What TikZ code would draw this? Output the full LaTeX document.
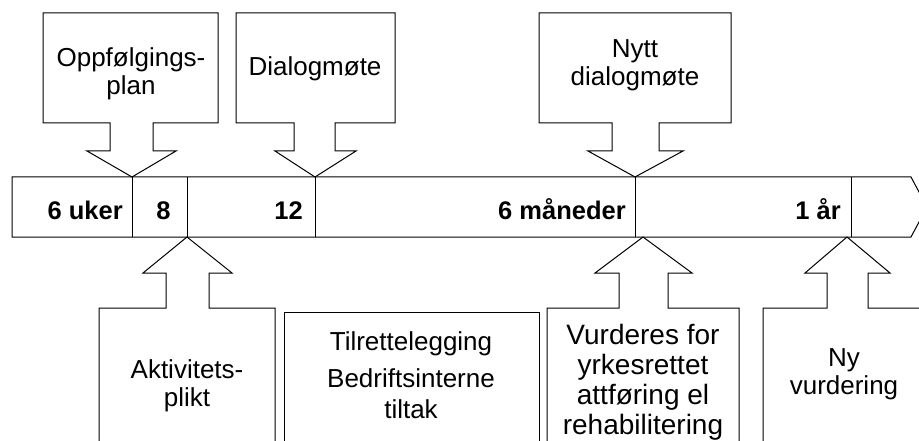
\documentclass[tikz,border=0pt]{standalone}
\usepackage{fontspec}
\setmainfont{Liberation Sans}
\begin{document}
\begin{tikzpicture}[x=1pt,y=-1pt,
  outline/.style={draw=black,line width=1pt,line join=miter},
  lbl/.style={inner sep=0pt,align=center,anchor=north,font=\fontsize{26}{28}\selectfont},
  lblwide/.style={lbl,font=\fontsize{26}{31}\selectfont},
  lblbig/.style={lbl,font=\fontsize{28}{30}\selectfont},
  barlbl/.style={inner sep=0pt,font=\fontsize{25.5}{28}\selectfont\bfseries}]
\useasboundingbox (0,0) rectangle (919,441);
\fill[white] (0,0) rectangle (919,441);
\clip (0,0) rectangle (919,441);
% timeline bar
\draw[outline] (12,177) -- (911,177) -- (927,207) -- (911,237) -- (12,237) -- cycle;
\coordinate (d1t) at (132,177); \coordinate (d1b) at (132,237);
\coordinate (d2t) at (187,177); \coordinate (d2b) at (187,237);
\coordinate (d3t) at (315,177); \coordinate (d3b) at (315,237);
\coordinate (d4t) at (635,177); \coordinate (d4b) at (635,237);
\coordinate (d5t) at (851,177); \coordinate (d5b) at (851,237);
\foreach \d in {d1,d2,d3,d4,d5} \draw[outline] (\d t) -- (\d b);
\node[barlbl,anchor=base east] (uker) at (123,219) {6 uker};
\node[barlbl,anchor=base] (w8) at (163.5,219) {8};
\node[barlbl,anchor=base east] (w12) at (303,219) {12};
\node[barlbl,anchor=base east] (mnd) at (626,219) {6 måneder};
\node[barlbl,anchor=base east] (aar) at (841,219) {1 år};
% top callouts
\draw[outline] (43,13) -- (218,13) -- (218,123) -- (153,123) -- (153,151) -- (176,151) -- (d1t) -- (87,151) -- (110,151) -- (110,123) -- (43,123) -- cycle;
\draw[outline] (236,13) -- (395,13) -- (395,123) -- (335,123) -- (335,151) -- (356,151) -- (d3t) -- (275,151) -- (294,151) -- (294,123) -- (236,123) -- cycle;
\draw[outline] (539,13) -- (731,13) -- (731,123) -- (659,123) -- (659,151) -- (683,151) -- (d4t) -- (588,151) -- (612,151) -- (612,123) -- (539,123) -- cycle;
\node[lbl] (opp) at (131,47) {Oppfølgings-\\plan};
\node[lbl,anchor=base] (dia) at (315,76) {Dialogmøte};
\node[lbl] (nytt) at (635,39) {Nytt\\dialogmøte};
% bottom callouts
\draw[outline] (99,450) -- (99,308) -- (166,308) -- (166,273) -- (143,273) -- (d2b) -- (232,273) -- (209,273) -- (209,308) -- (275,308) -- (275,450);
\draw[outline] (284,450) -- (284,312) -- (539,312) -- (539,450);
\draw[outline] (547,450) -- (547,308) -- (619,308) -- (619,273) -- (595,273) -- (643,237) -- (692,273) -- (668,273) -- (668,308) -- (739,308) -- (739,450);
\draw[outline] (763,450) -- (763,308) -- (827,308) -- (827,273) -- (805,273) -- (847,237) -- (890,273) -- (868,273) -- (868,308) -- (930,308);
\node[lbl] (akt) at (187,359) {Aktivitets-\\plikt};
\node[lblwide] (til) at (411,331) {Tilrettelegging\\[6pt]Bedriftsinterne\\tiltak};
\node[lblbig] (vur) at (643,324) {Vurderes for\\yrkesrettet\\attføring el\\rehabilitering};
\node[lbl] (ny) at (844,348) {Ny\\vurdering};
\end{tikzpicture}
\end{document}
